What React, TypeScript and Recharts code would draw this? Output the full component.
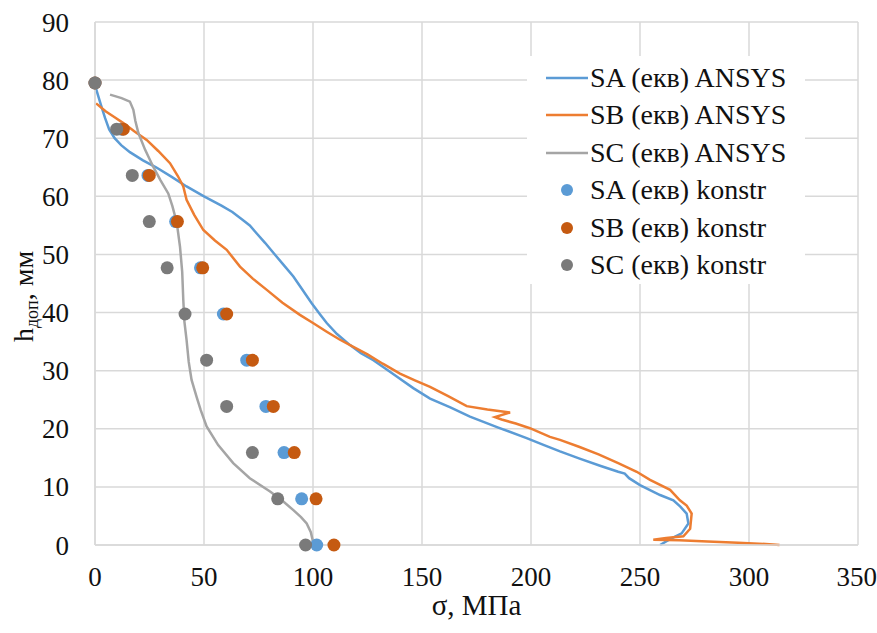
import { ComposedChart, Line, Scatter, XAxis, YAxis, CartesianGrid, Legend } from 'recharts'

// ANSYS curves: sigma (MPa) vs h (mm), top to bottom
const saAnsysSigma = [0.5, 2.5, 4.6, 6.5, 9, 12, 16, 22, 28, 35, 42, 50, 58, 63, 67.5, 71, 74.2, 78, 82, 86.5, 91, 95, 99.4, 103, 106.3, 111, 117, 122, 127.7, 133, 138.4, 146, 153.7, 163, 172, 185, 198, 206, 213.3, 222, 232, 240, 243, 245, 250, 259.2, 265.3, 268.5, 271.4, 272.2, 269.1, 263.8, 259.2]
const saAnsysH = [78.5, 76, 73.5, 71.5, 70, 68.8, 67.6, 66.2, 65, 63.4, 61.7, 60, 58.4, 57.3, 56, 55, 53.6, 52, 50.2, 48.2, 46.2, 44, 41.6, 39.8, 38.2, 36.3, 34.4, 33, 31.8, 30.4, 29, 27, 25.2, 23.7, 22.1, 20.2, 18.4, 17.2, 16.1, 14.9, 13.6, 12.6, 12.3, 11.5, 10.3, 8.6, 7.7, 6.6, 5.4, 3.7, 2.0, 1.0, 0]

const sbAnsysSigma = [0.5, 5, 9, 13, 18, 23.7, 29, 34.4, 38, 40.5, 42, 45.5, 49.7, 55, 60.4, 66.5, 72.5, 78.8, 86, 94, 100, 106.3, 112, 118.5, 125, 132, 139.9, 147, 153.7, 162, 170.5, 180, 190.4, 183.5, 186.5, 193, 199.5, 208.7, 213.3, 222, 231, 240, 248.5, 254.6, 263.8, 268.3, 271.4, 273.7, 273, 269.9, 262, 256.1, 268, 281, 295, 311, 314]
const sbAnsysH = [76, 74.6, 73.6, 72.6, 71.2, 69.7, 67.8, 65.7, 63.5, 61.7, 59.4, 56.8, 54.2, 52.4, 50.8, 47.9, 45.8, 43.9, 41.7, 39.6, 38.2, 36.7, 35.4, 34.1, 32.8, 31.2, 29.5, 28.3, 27.2, 25.6, 23.9, 23.3, 22.8, 22.0, 21.6, 20.9, 20.1, 18.6, 18.1, 16.9, 15.6, 14.1, 12.6, 11.2, 9.5, 7.7, 6.8, 5.4, 2.8, 1.5, 1.2, 0.9, 0.8, 0.6, 0.4, 0.1, 0]

const scAnsysSigma = [6.9, 12.2, 16, 17.6, 18.5, 19.9, 23, 26.7, 30, 33.6, 35.5, 37.5, 39, 40, 40.5, 41, 42, 43, 44.3, 46.6, 48.5, 51.2, 56.5, 63.4, 71, 80.3, 86, 91, 94.5, 97.1, 99, 99.8, 100]
const scAnsysH = [77.5, 76.9, 76.3, 74.9, 73, 70.9, 68, 65.1, 62.8, 60.5, 58.3, 55.5, 51.3, 47, 42.2, 38.5, 35.3, 31.5, 28.4, 25.5, 23.2, 20.4, 17.2, 14.1, 11.5, 9.2, 7.6, 6.0, 4.8, 3.7, 2.2, 0.9, 0]

// konstr points
const konstrH = [0, 7.95, 15.9, 23.85, 31.8, 39.75, 47.7, 55.65, 63.6, 71.55, 79.5]
const saKonstr = [101.7, 94.8, 86.7, 78.4, 69.6, 58.9, 48.4, 37, 24.3, 12.3, 0]
const sbKonstr = [109.6, 101.4, 91.4, 81.8, 72.2, 60.4, 49.4, 37.8, 24.9, 13, 0]
const scKonstr = [96.6, 83.8, 72.2, 60.4, 51.2, 41.3, 33.1, 24.9, 17.1, 9.95, 0]

const xTicks = [0, 50, 100, 150, 200, 250, 300, 350]
const yTicks = [0, 10, 20, 30, 40, 50, 60, 70, 80, 90]

const FONT = "'Liberation Serif', 'Times New Roman', Tinos, serif"
const TEXT = '#111'

const toPoints = (xs: number[], ys: number[]) => xs.map((x, i) => ({ x, y: ys[i] }))

const legendItems = [
  { name: 'SA (екв) ANSYS', color: '#5b9bd5', kind: 'line' },
  { name: 'SB (екв) ANSYS', color: '#ed7d31', kind: 'line' },
  { name: 'SC (екв) ANSYS', color: '#a5a5a5', kind: 'line' },
  { name: 'SA (екв) konstr', color: '#5b9bd5', kind: 'dot' },
  { name: 'SB (екв) konstr', color: '#c55a11', kind: 'dot' },
  { name: 'SC (екв) konstr', color: '#7a7a7a', kind: 'dot' },
]

function LegendBox() {
  return (
    <div style={{ background: '#fff', paddingTop: 3, fontFamily: FONT, fontSize: 28, color: TEXT }}>
      {legendItems.map(it => (
        <div key={it.name} style={{ height: 37.5, display: 'flex', alignItems: 'center' }}>
          <svg width={63} height={20} style={{ flex: 'none' }}>
            {it.kind === 'line'
              ? <line x1={19} x2={61} y1={10} y2={10} stroke={it.color} strokeWidth={2.5} />
              : <circle cx={40} cy={10} r={6} fill={it.color} />}
          </svg>
          <span style={{ whiteSpace: 'nowrap', lineHeight: 1 }}>{it.name}</span>
        </div>
      ))}
    </div>
  )
}

function YTitle(props: any) {
  const vb = props.viewBox || { y: 22, height: 523 }
  const cy = vb.y + vb.height / 2 + 13
  return (
    <text transform={`translate(33,${cy}) rotate(-90)`} textAnchor="middle" style={{ fontFamily: FONT }} fontSize={28} fill={TEXT}>
      <tspan>h</tspan>
      <tspan fontSize={18} dy={5}>доп</tspan>
      <tspan dy={-5}>, мм</tspan>
    </text>
  )
}

function XTitle(props: any) {
  const vb = props.viewBox || { x: 95, width: 763 }
  return (
    <text x={vb.x + vb.width / 2} y={615} textAnchor="middle" style={{ fontFamily: FONT }} fontSize={29} fill={TEXT}>
      σ, МПа
    </text>
  )
}

const dotShape = (color: string) => (p: any) => <circle cx={p.cx} cy={p.cy} r={6.5} fill={color} />

export default function App() {
  const tickStyle = { fill: TEXT, fontSize: 27, style: { fontFamily: FONT } }
  return (
    <div style={{ position: 'absolute', left: 0, top: 0, width: 877, height: 633, background: '#fff', fontFamily: FONT }}>
      <ComposedChart width={877} height={633} margin={{ top: 22, right: 19, bottom: 0, left: 0 }}>
        <CartesianGrid stroke="#d9d9d9" strokeWidth={1.5} />
        <XAxis
          type="number"
          dataKey="x"
          domain={[0, 350]}
          ticks={xTicks}
          height={88}
          axisLine={{ stroke: '#d9d9d9', strokeWidth: 1.5 }}
          tickLine={false}
          tickSize={0}
          tickMargin={22}
          tick={tickStyle}
          label={<XTitle />}
        />
        <YAxis
          type="number"
          dataKey="y"
          domain={[0, 90]}
          ticks={yTicks}
          width={95}
          axisLine={{ stroke: '#d9d9d9', strokeWidth: 1.5 }}
          tickLine={false}
          tickSize={0}
          tickMargin={26}
          tick={tickStyle}
          label={<YTitle />}
        />
        <Legend
          layout="vertical"
          align="center"
          verticalAlign="middle"
          content={<LegendBox />}
          wrapperStyle={{ left: 527, top: 56, width: 278, height: 224 }}
        />
        <Line data={toPoints(saAnsysSigma, saAnsysH)} dataKey="y" name="SA (екв) ANSYS" type="linear" stroke="#5b9bd5" strokeWidth={2.5} dot={false} isAnimationActive={false} />
        <Line data={toPoints(sbAnsysSigma, sbAnsysH)} dataKey="y" name="SB (екв) ANSYS" type="linear" stroke="#ed7d31" strokeWidth={2.5} dot={false} isAnimationActive={false} />
        <Line data={toPoints(scAnsysSigma, scAnsysH)} dataKey="y" name="SC (екв) ANSYS" type="linear" stroke="#a5a5a5" strokeWidth={2.5} dot={false} isAnimationActive={false} />
        <Scatter data={toPoints(saKonstr, konstrH)} dataKey="y" name="SA (екв) konstr" fill="#5b9bd5" shape={dotShape('#5b9bd5')} isAnimationActive={false} />
        <Scatter data={toPoints(sbKonstr, konstrH)} dataKey="y" name="SB (екв) konstr" fill="#c55a11" shape={dotShape('#c55a11')} isAnimationActive={false} />
        <Scatter data={toPoints(scKonstr, konstrH)} dataKey="y" name="SC (екв) konstr" fill="#7a7a7a" shape={dotShape('#7a7a7a')} isAnimationActive={false} />
      </ComposedChart>
    </div>
  )
}
